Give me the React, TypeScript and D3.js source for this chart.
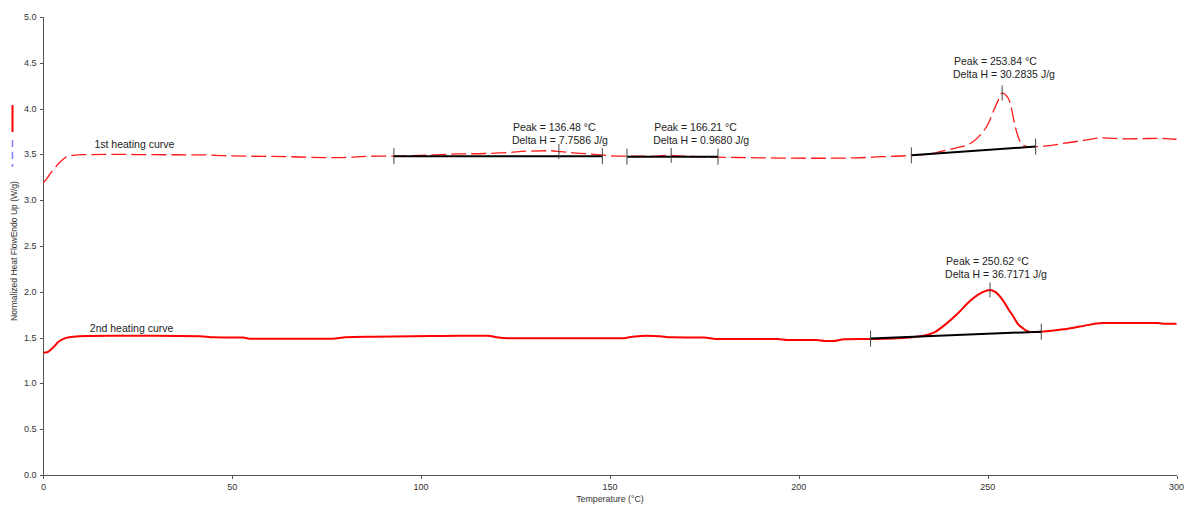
import React from 'react';
import * as d3 from 'd3';

const WIDTH = 1194;
const HEIGHT = 507;
const FONT = '"Liberation Sans", Arial, sans-serif';

// Axis ticks
const xTicks = [0, 50, 100, 150, 200, 250, 300];
const yTicks = [0, 0.5, 1, 1.5, 2, 2.5, 3, 3.5, 4, 4.5, 5];

// 1st heating curve: temperature (°C) and normalized heat flow (W/g)
const firstTemp = [
  0, 1, 2, 3, 4, 5, 6, 7, 8, 10, 20, 28, 42, 48, 55, 65, 71, 78, 84, 89, 93, 100, 110, 117,
  123, 128, 134, 137, 141, 146, 150, 155, 162, 166, 170, 178, 186, 195, 205, 215, 222, 228,
  232, 236, 239, 242, 244.5, 246.2, 248, 250.2, 251.5, 252.8, 253.84, 255.5, 256.4, 257.2,
  258.1, 259.4, 260.8, 262.7, 266.4, 270, 275, 280.5, 283, 287, 291, 295, 298, 300,
];
const firstFlow = [
  3.19, 3.24, 3.3, 3.35, 3.4, 3.44, 3.47, 3.485, 3.49, 3.497, 3.5, 3.497, 3.495, 3.486, 3.48,
  3.475, 3.468, 3.465, 3.475, 3.482, 3.48, 3.49, 3.505, 3.51, 3.52, 3.535, 3.54, 3.53, 3.515,
  3.5, 3.485, 3.48, 3.482, 3.49, 3.48, 3.47, 3.465, 3.46, 3.458, 3.462, 3.475, 3.485, 3.495,
  3.515, 3.545, 3.575, 3.6, 3.64, 3.71, 3.84, 3.97, 4.09, 4.17, 4.11, 3.98, 3.82, 3.69, 3.6,
  3.585, 3.585, 3.595, 3.62, 3.65, 3.68, 3.675, 3.67, 3.672, 3.675, 3.67, 3.665,
];

// 2nd heating curve
const secondTemp = [
  0, 1, 2, 3, 4, 5, 6, 8, 12, 17.6, 30, 41.5, 45, 52.8, 55, 76.4, 80, 87.3, 102.9, 110,
  117.7, 120, 123, 153, 156, 160, 163.2, 166, 175, 178, 194.4, 197, 204.8, 207, 209, 212, 219,
  225, 230, 233, 236, 239, 242, 245.3, 247.5, 249.5, 250.62, 252, 254, 255.5, 256.8, 258,
  259.4, 260.5, 261.3, 264.2, 270, 274.4, 280.5, 290, 295, 297, 300,
];
const secondFlow = [
  1.335, 1.34, 1.37, 1.41, 1.455, 1.48, 1.497, 1.51, 1.517, 1.52, 1.52, 1.515, 1.503, 1.5,
  1.488, 1.488, 1.503, 1.51, 1.517, 1.521, 1.521, 1.503, 1.492, 1.492, 1.51, 1.521, 1.515,
  1.503, 1.5, 1.485, 1.485, 1.474, 1.474, 1.463, 1.463, 1.481, 1.485, 1.49, 1.505, 1.52, 1.56,
  1.65, 1.76, 1.9, 1.97, 2.01, 2.02, 2.0, 1.91, 1.81, 1.73, 1.65, 1.6, 1.57, 1.56, 1.565, 1.59,
  1.62, 1.66, 1.66, 1.66, 1.65, 1.65,
];

// Peak integrations
const peakCurve = [0, 0, 0, 1];
const peakTemps = [136.48, 166.21, 253.84, 250.62];
const deltaH = [7.7586, 0.968, 30.2835, 36.7171];
const baseStartTemp = [92.8, 154.5, 229.8, 219.0];
const baseStartFlow = [3.48, 3.475, 3.49, 1.49];
const baseEndTemp = [148.0, 178.6, 262.7, 264.2];
const baseEndFlow = [3.48, 3.475, 3.585, 1.565];
const labelTemp = [124.3, 161.7, 241.1, 239.0];
const labelFlow = [3.76, 3.76, 4.476, 2.293];

// Curve names
const curveNames = ['1st heating curve', '2nd heating curve'];
const curveNameTemp = [13.5, 12.3];
const curveNameFlow = [3.567, 1.558];

const x = d3.scaleLinear().domain([0, 300]).range([43.4, 1176.5]);
const y = d3.scaleLinear().domain([0, 5]).range([475, 17]);

const curves = [
  { temp: firstTemp, flow: firstFlow },
  { temp: secondTemp, flow: secondFlow },
];

function flowAt(c: { temp: number[]; flow: number[] }, t: number) {
  const i = d3.bisectLeft(c.temp, t);
  if (i <= 0) return c.flow[0];
  if (i >= c.temp.length) return c.flow[c.flow.length - 1];
  const t0 = c.temp[i - 1], t1 = c.temp[i];
  const f = (t - t0) / (t1 - t0);
  return c.flow[i - 1] + f * (c.flow[i] - c.flow[i - 1]);
}

function curvePath(c: { temp: number[]; flow: number[] }) {
  return d3
    .line<number>()
    .x((_, i) => x(c.temp[i]))
    .y((_, i) => y(c.flow[i]))
    .curve(d3.curveMonotoneX)(c.temp);
}

export default function App() {
  const x0 = Math.round(x(0)) + 0.5;
  const yBottom = Math.round(y(0)) + 0.5;
  const yTop = Math.round(y(5));
  const xEnd = x(300);

  return (
    <svg
      width={WIDTH}
      height={HEIGHT}
      style={{ position: 'absolute', left: 0, top: 0, background: '#fff' }}
      fontFamily={FONT}
    >
      {/* axes */}
      <path
        d={`M${x0},${yTop}V${yBottom}H${xEnd}`}
        fill="none"
        stroke="#555"
        strokeWidth={1}
        shapeRendering="crispEdges"
      />
      {yTicks.map((v) => (
        <g key={'y' + v}>
          <line
            x1={x0 - 4}
            x2={x0}
            y1={Math.round(y(v)) + 0.5}
            y2={Math.round(y(v)) + 0.5}
            stroke="#555"
            shapeRendering="crispEdges"
          />
          <text x={x0 - 7} y={y(v)} dy="0.34em" textAnchor="end" fontSize={9} fill="#333">
            {d3.format('.1f')(v)}
          </text>
        </g>
      ))}
      {xTicks.map((v) => (
        <g key={'x' + v}>
          <line
            x1={Math.round(x(v)) + 0.5}
            x2={Math.round(x(v)) + 0.5}
            y1={yBottom}
            y2={yBottom + 3}
            stroke="#555"
            shapeRendering="crispEdges"
          />
          <text x={x(v)} y={yBottom + 14} textAnchor="middle" fontSize={9} fill="#333">
            {v}
          </text>
        </g>
      ))}
      <text x={610} y={501.5} textAnchor="middle" fontSize={8.8} fill="#333">
        Temperature (°C)
      </text>
      <text
        transform="translate(16.5,251) rotate(-90)"
        textAnchor="middle"
        fontSize={8.5}
        fill="#333"
      >
        Normalized Heat FlowEndo Up (W/g)
      </text>

      {/* series keys beside the axis title */}
      <line x1={12.5} x2={12.5} y1={105} y2={132} stroke="#ff0000" strokeWidth={2} />
      <line
        x1={12.5}
        x2={12.5}
        y1={140}
        y2={167}
        stroke="#8080ff"
        strokeWidth={1.5}
        strokeDasharray="7 5"
      />

      {/* heating curves */}
      <path
        d={curvePath(curves[0]) || ''}
        fill="none"
        stroke="#ff1a1a"
        strokeWidth={1.3}
        strokeDasharray="15 5"
      />
      <path d={curvePath(curves[1]) || ''} fill="none" stroke="#ff0000" strokeWidth={2} />

      {curveNames.map((n, i) => (
        <text
          key={n}
          x={x(curveNameTemp[i])}
          y={y(curveNameFlow[i])}
          fontSize={10.5}
          fill="#222"
        >
          {n}
        </text>
      ))}

      {/* peak integrations */}
      {peakTemps.map((p, i) => {
        const c = curves[peakCurve[i]];
        const xs = x(baseStartTemp[i]);
        const xe = x(baseEndTemp[i]);
        const ys = y(baseStartFlow[i]);
        const ye = y(baseEndFlow[i]);
        const xp = x(p);
        const yp = y(flowAt(c, p));
        return (
          <g key={'pk' + i}>
            <line x1={xs} x2={xe} y1={ys} y2={ye} stroke="#000" strokeWidth={2} />
            <line x1={xs} x2={xs} y1={ys - 8} y2={ys + 8} stroke="#444" strokeWidth={1} />
            <line x1={xe} x2={xe} y1={ye - 8} y2={ye + 8} stroke="#444" strokeWidth={1} />
            <line x1={xp} x2={xp} y1={yp - 7.5} y2={yp + 7.5} stroke="#444" strokeWidth={1} />
            <text x={x(labelTemp[i])} y={y(labelFlow[i])} fontSize={10.5} fill="#222">
              {`Peak = ${p.toFixed(2)} °C`}
            </text>
            <text x={x(labelTemp[i]) - 1} y={y(labelFlow[i]) + 13.3} fontSize={10.5} fill="#222">
              {`Delta H = ${deltaH[i].toFixed(4)} J/g`}
            </text>
          </g>
        );
      })}
    </svg>
  );
}
